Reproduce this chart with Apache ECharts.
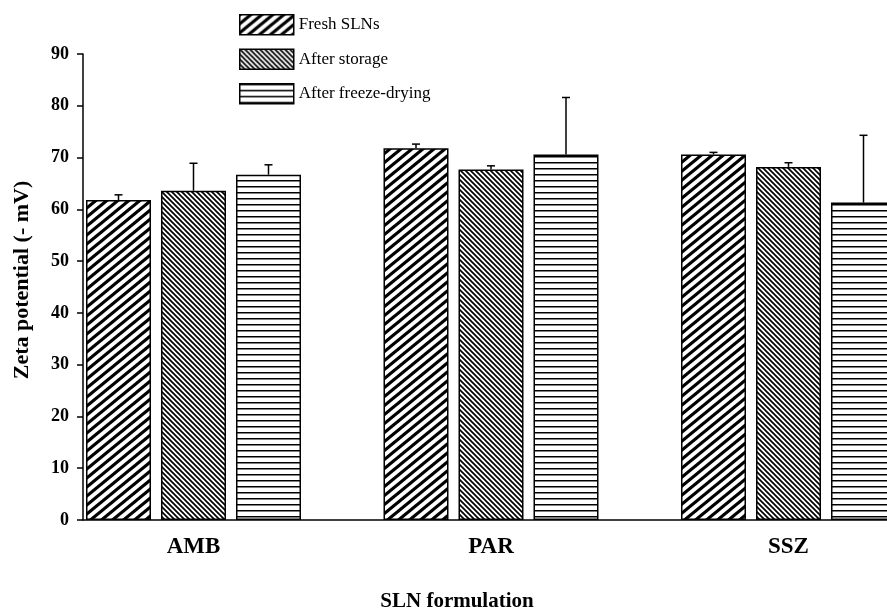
<!DOCTYPE html>
<html><head><meta charset="utf-8">
<script src="https://cdn.jsdelivr.net/npm/echarts@6/dist/echarts.min.js"></script>
<style>html,body{margin:0;padding:0;background:#fff}#c{width:887px;height:612px}</style>
</head><body><div id="c"></div>
<script>
var categories = ['AMB', 'PAR', 'SSZ'];
var seriesNames = ['Fresh SLNs', 'After storage', 'After freeze-drying'];
var freshMean = [61.8, 71.8, 70.6];
var freshErr = [1.0, 0.8, 0.4];
var storageMean = [63.6, 67.7, 68.2];
var storageErr = [5.3, 0.7, 0.8];
var freezeMean = [66.7, 70.6, 61.3];
var freezeErr = [1.9, 11.0, 13.0];
var yTicks = [0, 10, 20, 30, 40, 50, 60, 70, 80, 90];

var FONT = '"Liberation Serif","Times New Roman",serif';
var BAR_W = 65, BAR_GAP = 10;

function makePattern(kind) {
  var cv = document.createElement('canvas');
  var ctx, w, h, k;
  if (kind === 'fwd') {
    w = 11; h = 9;
    cv.width = w; cv.height = h;
    ctx = cv.getContext('2d');
    ctx.fillStyle = '#fff'; ctx.fillRect(0, 0, w, h);
    ctx.strokeStyle = '#000'; ctx.lineWidth = 3.2;
    for (k = -2; k <= 2; k++) {
      ctx.beginPath();
      ctx.moveTo(k * w - w, 2 * h); ctx.lineTo(k * w + 2 * w, -h);
      ctx.stroke();
    }
  } else if (kind === 'back') {
    w = 5; h = 5;
    cv.width = w; cv.height = h;
    ctx = cv.getContext('2d');
    ctx.fillStyle = '#fff'; ctx.fillRect(0, 0, w, h);
    ctx.strokeStyle = '#000'; ctx.lineWidth = 1.7;
    for (k = -2; k <= 2; k++) {
      ctx.beginPath();
      ctx.moveTo(k * w - w, -h); ctx.lineTo(k * w + 2 * w, 2 * h);
      ctx.stroke();
    }
  } else {
    cv.width = 6; cv.height = 6;
    ctx = cv.getContext('2d');
    ctx.fillStyle = '#fff'; ctx.fillRect(0, 0, 6, 6);
    ctx.fillStyle = '#000'; ctx.fillRect(0, 0, 6, 1.5);
  }
  return { image: cv, repeat: 'repeat' };
}
var patterns = [makePattern('fwd'), makePattern('back'), makePattern('horiz')];
var means = [freshMean, storageMean, freezeMean];
var errs = [freshErr, storageErr, freezeErr];

var chart = echarts.init(document.getElementById('c'), null, { renderer: 'canvas' });

var series = [];
seriesNames.forEach(function (name, i) {
  series.push({
    name: name, type: 'bar', xAxisIndex: 0, yAxisIndex: 0,
    data: means[i], barWidth: BAR_W, barGap: (BAR_GAP / BAR_W * 100) + '%',
    itemStyle: { color: patterns[i], borderColor: '#000', borderWidth: 1.5 },
    emphasis: { disabled: true }, animation: false, z: 2
  });
});
seriesNames.forEach(function (name, i) {
  series.push({
    type: 'custom', xAxisIndex: 0, yAxisIndex: 0, animation: false, z: 3,
    data: means[i].map(function (m, j) { return [j, m, m + errs[i][j]]; }),
    renderItem: function (params, api) {
      var top = api.coord([api.value(0), api.value(1)]);
      var cap = api.coord([api.value(0), api.value(2)]);
      var x = top[0] + (i - 1) * (BAR_W + BAR_GAP);
      var hw = 4;
      return { type: 'group', children: [
        { type: 'line', shape: { x1: x, y1: top[1], x2: x, y2: cap[1] }, style: { stroke: '#000', lineWidth: 1.5 } },
        { type: 'line', shape: { x1: x - hw, y1: cap[1], x2: x + hw, y2: cap[1] }, style: { stroke: '#000', lineWidth: 1.5 } }
      ]};
    }
  });
});

chart.setOption({
  backgroundColor: '#fff',
  animation: false,
  grid: [
    { left: 44.75, top: 54, bottom: 92, width: 892.5, outerBoundsMode: 'none', containLabel: false },
    { left: 83, top: 54, bottom: 92, right: 0, outerBoundsMode: 'none', containLabel: false }
  ],
  legend: {
    orient: 'vertical', left: 239, top: 14, padding: 0, itemWidth: 54, itemHeight: 20, itemGap: 13,
    data: seriesNames.map(function (n) { return { name: n, icon: 'rect' }; }), selectedMode: false,
    itemStyle: { borderColor: '#000', borderWidth: 1.5 },
    textStyle: { fontFamily: FONT, fontSize: 17, color: '#000' }
  },
  xAxis: [
    { type: 'category', gridIndex: 0, data: categories,
      axisLine: { show: false }, axisTick: { show: false },
      axisLabel: { margin: 16, fontFamily: FONT, fontSize: 23, fontWeight: 'bold', color: '#000' } },
    { type: 'value', gridIndex: 1, min: 0, max: 1, show: true,
      axisLine: { show: true, onZero: false, lineStyle: { color: '#000', width: 1.5 } },
      axisTick: { show: false }, axisLabel: { show: false }, splitLine: { show: false } }
  ],
  yAxis: [
    { type: 'value', gridIndex: 0, min: 0, max: 90, interval: 10, show: false },
    { type: 'value', gridIndex: 1, min: 0, max: 90, interval: 10,
      axisLine: { show: true, lineStyle: { color: '#000', width: 1.5 } },
      axisTick: { show: true, length: 6, lineStyle: { color: '#000', width: 1.5 } },
      splitLine: { show: false },
      axisLabel: { margin: 14, fontFamily: FONT, fontSize: 18, fontWeight: 'bold', color: '#000',
        formatter: function (v) { return yTicks.indexOf(v) >= 0 ? String(v) : ''; } } }
  ],
  graphic: [
    { type: 'text', x: 457, y: 602, style: { text: 'SLN formulation', font: 'bold 21px ' + FONT, fill: '#000', textAlign: 'center', textVerticalAlign: 'middle' } },
    { type: 'text', x: 22, y: 280, rotation: Math.PI / 2, style: { text: 'Zeta potential (- mV)', font: 'bold 22px ' + FONT, fill: '#000', textAlign: 'center', textVerticalAlign: 'middle' } }
  ],
  series: series
});
</script></body></html>
